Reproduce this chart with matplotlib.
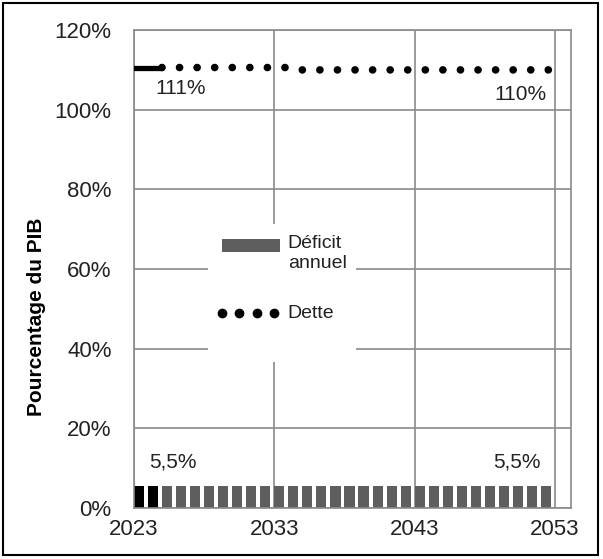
import numpy as np
import matplotlib.pyplot as plt
from matplotlib.patches import Rectangle

plt.rcParams['font.family'] = ['Liberation Sans Narrow', 'Liberation Sans', 'DejaVu Sans']

# data
years = np.arange(2023, 2053)
deficit = np.full(len(years), 5.5)
n_actual = 2  # first two bars drawn in black

debt_years = np.arange(2023, 2054)
debt = np.array([110.6] * 12 + [110.0] * 19)
n_debt_solid = 3

labels = [
    (2026.3, 105.3, "111%"),
    (2050.5, 103.8, "110%"),
    (2025.8, 11.6, "5,5%"),
    (2050.3, 11.6, "5,5%"),
]

xticks = [2023, 2033, 2043, 2053]
yticks = np.arange(0, 121, 20)

fig = plt.figure(figsize=(6.03, 5.59), dpi=100)
ax = fig.add_axes([0.222, 0.0912, 0.725, 0.855])

grey = "#5e5e5e"
colors = ["black"] * n_actual + [grey] * (len(years) - n_actual)
ax.bar(years, deficit, width=0.72, align='edge', color=colors, zorder=2)

dots = (0, (0.01, 2.29))
# debt: solid for known years, dotted afterwards
ax.plot(debt_years[:n_debt_solid], debt[:n_debt_solid], color='black', lw=3.8,
        solid_capstyle='round', zorder=3)
ax.plot(debt_years[n_debt_solid - 1:], debt[n_debt_solid - 1:], color='black', lw=5.5,
        linestyle=dots, dash_capstyle='round', zorder=3)

for x, y, s in labels:
    ax.text(x, y, s, ha='center', va='center', fontsize=15, color='#222222')

ax.set_xlim(2023, 2054.14)
ax.set_ylim(0, 120)
ax.set_xticks(xticks)
ax.set_yticks(yticks)
ax.set_yticklabels([f"{v}%" for v in yticks])
ax.tick_params(axis='y', length=0, labelsize=16, pad=16, colors='#222222')
ax.tick_params(axis='x', length=0, labelsize=16, pad=8, colors='#222222')
ax.grid(True, color='#8a8a8a', lw=1.2, zorder=0)
for s in ax.spines.values():
    s.set_color('#8a8a8a')
    s.set_linewidth(1.2)

ax.set_ylabel("Pourcentage du PIB", fontsize=15, fontweight='bold', labelpad=10)
ax.yaxis.set_label_coords(-0.2, 0.40)

# legend, drawn by hand on a white box that hides the grid
T = ax.transAxes
ax.add_patch(Rectangle((0.169, 0.305), 0.339, 0.289, transform=T,
                       facecolor='white', edgecolor='none', zorder=4))
ax.add_patch(Rectangle((0.201, 0.536), 0.133, 0.027, transform=T,
                       facecolor=grey, edgecolor='none', zorder=5))
ax.text(0.352, 0.572, "Déficit\nannuel", transform=T, ha='left', va='top',
        fontsize=14, linespacing=1.25, color='#222222', zorder=5)
ax.plot([0.201, 0.240, 0.281, 0.320], [0.4079] * 4, 'o', color='black',
        markersize=6, transform=T, zorder=5)
ax.text(0.352, 0.4079, "Dette", transform=T, ha='left', va='center',
        fontsize=14, color='#222222', zorder=5)

fig.patches.append(Rectangle((0.005, 0.007), 0.987, 0.987, transform=fig.transFigure,
                             fill=False, edgecolor='black', lw=1.5))

fig.savefig("out.png", dpi=100)
